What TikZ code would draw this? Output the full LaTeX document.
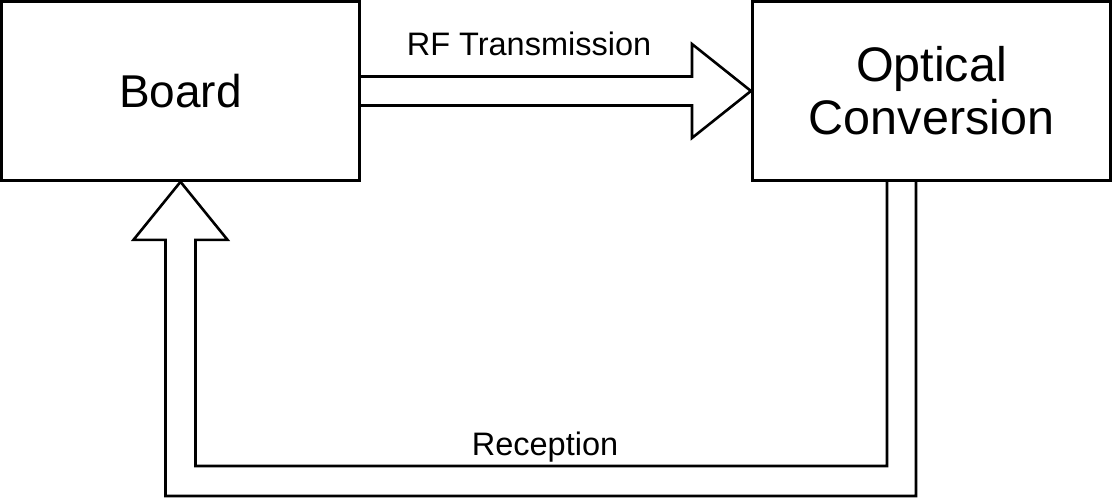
\documentclass[tikz,border=0pt]{standalone}
\usepackage{fontspec}
\setmainfont{Liberation Sans}
\usetikzlibrary{calc}
\tikzset{
    block/.style={draw,minimum width=358.5pt,minimum height=179pt,font=\fontsize{46}{52}\selectfont,align=center},
    biglabel/.style={font=\fontsize{32.5}{38}\selectfont,anchor=base}
}
\begin{document}
\begin{tikzpicture}[x=1pt,y=-1pt,line width=2.6pt,line join=miter]
    \useasboundingbox (0,0) rectangle (1113,498);
    \node[block] (board) at (180.5,91) {Board};
    \node[block,font=\fontsize{48.5}{53}\selectfont] (optical) at (931.5,91) {Optical\\Conversion};
    % hollow arrow board -> optical
    \draw ($(board.east)+(0,-14.5)$) -- ($(optical.west)+(-59,-14.5)$) -- ($(optical.west)+(-59,-47)$)
        -- (optical.west) -- ($(optical.west)+(-59,47)$) -- ($(optical.west)+(-59,14.5)$) -- ($(board.east)+(0,14.5)$);
    \node[biglabel] (rflabel) at (529,55) {RF Transmission};
    % hollow arrow optical -> board, going round below
    \coordinate (turn) at (0,481);
    \draw ($(optical.south)+(-44.5,0)$) -- ($(optical.south |- turn)+(-44.5,-15)$) -- ($(board.south |- turn)+(15,-15)$)
        -- ($(board.south)+(15,58)$) -- ($(board.south)+(47,58)$) -- (board.south) -- ($(board.south)+(-47,58)$)
        -- ($(board.south)+(-15,58)$) -- ($(board.south |- turn)+(-15,15)$) -- ($(optical.south |- turn)+(-15.5,15)$)
        -- ($(optical.south)+(-15.5,0)$);
    \node[biglabel] (rxlabel) at (545,455) {Reception};
\end{tikzpicture}
\end{document}
